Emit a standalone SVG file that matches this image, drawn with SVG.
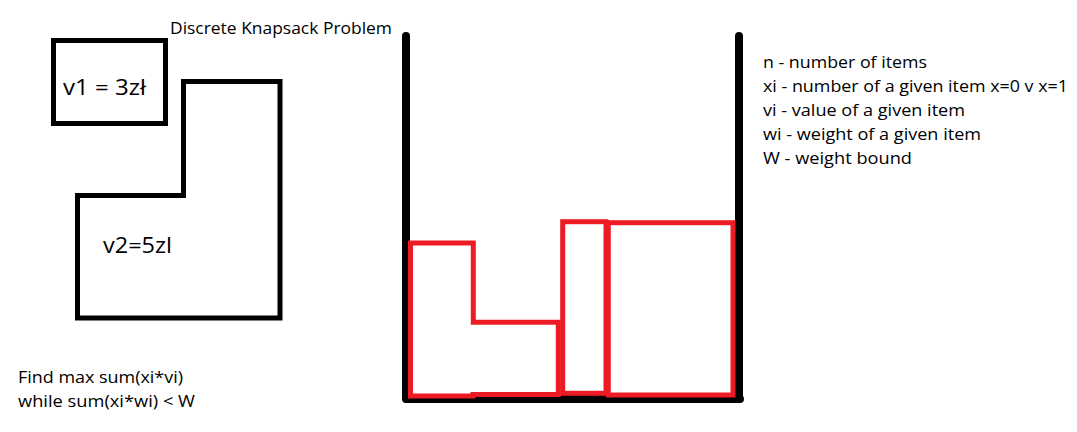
<svg xmlns="http://www.w3.org/2000/svg" width="1077" height="432" viewBox="0 0 1077 432">
<style>
.t{font-family:"Open Sans","Liberation Sans",sans-serif;font-size:17px;fill:#000}
.big{font-size:21px}
.blk{fill:none;stroke:#000;stroke-width:5;stroke-linejoin:miter}
.red{fill:none;stroke:#ED1C24;stroke-width:5;stroke-linejoin:miter}
.bag{fill:none;stroke:#000;stroke-width:8;stroke-linecap:round;stroke-linejoin:round}
</style>
<rect width="1077" height="432" fill="#fff"/>
<g id="title"><text class="t" x="170" y="34" textLength="222" lengthAdjust="spacingAndGlyphs">Discrete Knapsack Problem</text></g>
<g id="item1">
<rect class="blk" x="53.5" y="40.5" width="112" height="83"/>
<text class="t big" x="63" y="95" textLength="83" lengthAdjust="spacingAndGlyphs">v1 = 3zł</text>
</g>
<g id="item2">
<path class="blk" d="M183.5,81.5 H280 V318 H77.5 V195.5 H183.5 Z"/>
<text class="t big" x="103" y="253" textLength="69" lengthAdjust="spacingAndGlyphs">v2=5zl</text>
</g>
<g id="goal">
<text class="t" x="18" y="383" textLength="165" lengthAdjust="spacingAndGlyphs">Find max sum(xi*vi)</text>
<text class="t" x="18" y="407" textLength="177" lengthAdjust="spacingAndGlyphs">while sum(xi*wi) &lt; W</text>
</g>
<g id="knapsack">
<path class="bag" d="M406,36 V399 H740 M739,36 V399"/>
</g>
<g id="packed-items">
<path class="red" d="M410.5,243 H473.3 V322.3 H558.3 V394.5 H473 V396 H410.5 Z"/>
<rect class="red" x="562.7" y="221.7" width="43.3" height="171.6"/>
<rect class="red" x="608.3" y="222.7" width="124.7" height="172.3"/>
</g>
<g id="legend">
<text class="t" x="763" y="67.5" textLength="164" lengthAdjust="spacingAndGlyphs">n - number of items</text>
<text class="t" x="763" y="92" textLength="305" lengthAdjust="spacingAndGlyphs">xi - number of a given item x=0 v x=1</text>
<text class="t" x="763" y="116" textLength="202" lengthAdjust="spacingAndGlyphs">vi - value of a given item</text>
<text class="t" x="763" y="140" textLength="218" lengthAdjust="spacingAndGlyphs">wi - weight of a given item</text>
<text class="t" x="763" y="164" textLength="149" lengthAdjust="spacingAndGlyphs">W - weight bound</text>
</g>
</svg>
